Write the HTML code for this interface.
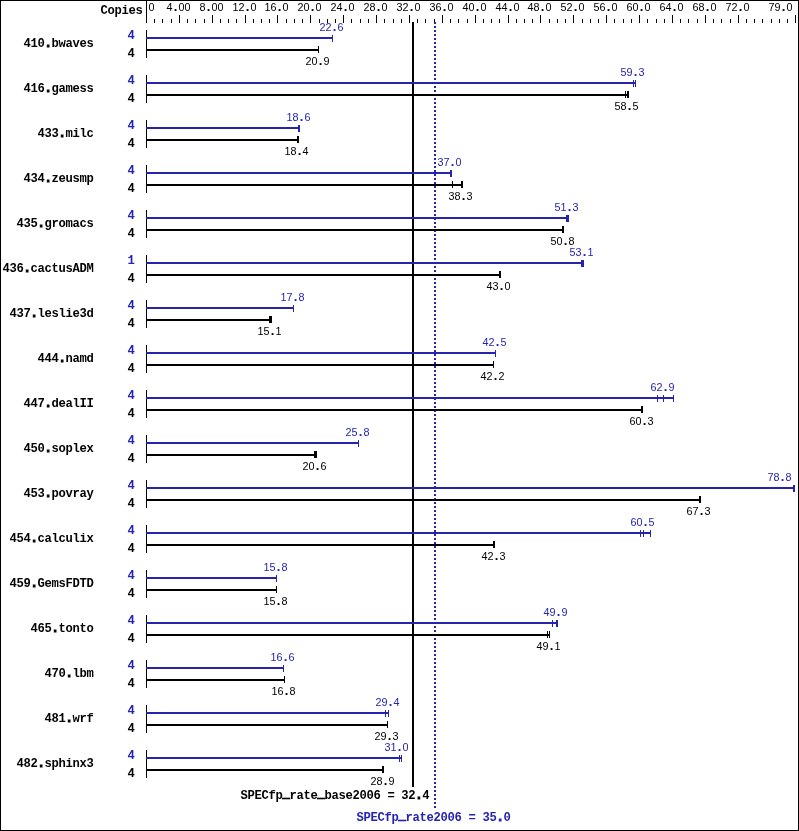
<!DOCTYPE html>
<html lang="en"><head><meta charset="utf-8"><title>SPECfp_rate2006</title>
<style>
html,body{margin:0;padding:0;background:#fff}
body{width:799px;height:831px;overflow:hidden}
#c{position:relative;width:799px;height:831px;background:#fff;overflow:hidden;will-change:transform}
#c div,#c span{position:absolute}
.k{background:#000}
.b{background:#2424b0}
.s{font:400 10.8px/13px "Liberation Sans",sans-serif;white-space:pre;color:#000}
.s i{font-style:normal;font-weight:700;font-size:13px;line-height:0;margin:0 1.194px}
.m{font:700 12.2px/13px "Liberation Mono",monospace;letter-spacing:-0.321px;white-space:pre;color:#000}
.m i{font-style:normal;-webkit-text-stroke:1px}
.m b{position:relative;top:-2px;-webkit-text-stroke:1px}
.u{color:#2424b0}
.dot{background:repeating-linear-gradient(to bottom,#2424b0 0,#2424b0 2px,transparent 2px,transparent 4px)}
</style></head>
<body><div id="c">
<!-- frame -->
<div class="k" style="left:0px;top:0px;width:799px;height:1px"></div>
<div class="k" style="left:0px;top:830px;width:799px;height:1px"></div>
<div class="k" style="left:0px;top:0px;width:1px;height:831px"></div>
<div class="k" style="left:798px;top:0px;width:1px;height:831px"></div>
<!-- axis -->
<div class="k" style="left:146px;top:0px;width:1px;height:23px"></div>
<div class="k" style="left:154px;top:19px;width:1px;height:4px"></div>
<div class="k" style="left:162px;top:19px;width:1px;height:4px"></div>
<div class="k" style="left:171px;top:19px;width:1px;height:4px"></div>
<div class="k" style="left:179px;top:15px;width:1px;height:8px"></div>
<div class="k" style="left:187px;top:19px;width:1px;height:4px"></div>
<div class="k" style="left:195px;top:19px;width:1px;height:4px"></div>
<div class="k" style="left:204px;top:19px;width:1px;height:4px"></div>
<div class="k" style="left:212px;top:15px;width:1px;height:8px"></div>
<div class="k" style="left:220px;top:19px;width:1px;height:4px"></div>
<div class="k" style="left:228px;top:19px;width:1px;height:4px"></div>
<div class="k" style="left:236px;top:19px;width:1px;height:4px"></div>
<div class="k" style="left:245px;top:15px;width:1px;height:8px"></div>
<div class="k" style="left:253px;top:19px;width:1px;height:4px"></div>
<div class="k" style="left:261px;top:19px;width:1px;height:4px"></div>
<div class="k" style="left:269px;top:19px;width:1px;height:4px"></div>
<div class="k" style="left:277px;top:15px;width:1px;height:8px"></div>
<div class="k" style="left:286px;top:19px;width:1px;height:4px"></div>
<div class="k" style="left:294px;top:19px;width:1px;height:4px"></div>
<div class="k" style="left:302px;top:19px;width:1px;height:4px"></div>
<div class="k" style="left:310px;top:15px;width:1px;height:8px"></div>
<div class="k" style="left:319px;top:19px;width:1px;height:4px"></div>
<div class="k" style="left:327px;top:19px;width:1px;height:4px"></div>
<div class="k" style="left:335px;top:19px;width:1px;height:4px"></div>
<div class="k" style="left:343px;top:15px;width:1px;height:8px"></div>
<div class="k" style="left:351px;top:19px;width:1px;height:4px"></div>
<div class="k" style="left:360px;top:19px;width:1px;height:4px"></div>
<div class="k" style="left:368px;top:19px;width:1px;height:4px"></div>
<div class="k" style="left:376px;top:15px;width:1px;height:8px"></div>
<div class="k" style="left:384px;top:19px;width:1px;height:4px"></div>
<div class="k" style="left:393px;top:19px;width:1px;height:4px"></div>
<div class="k" style="left:401px;top:19px;width:1px;height:4px"></div>
<div class="k" style="left:409px;top:15px;width:1px;height:8px"></div>
<div class="k" style="left:417px;top:19px;width:1px;height:4px"></div>
<div class="k" style="left:425px;top:19px;width:1px;height:4px"></div>
<div class="k" style="left:434px;top:19px;width:1px;height:4px"></div>
<div class="k" style="left:442px;top:15px;width:1px;height:8px"></div>
<div class="k" style="left:450px;top:19px;width:1px;height:4px"></div>
<div class="k" style="left:458px;top:19px;width:1px;height:4px"></div>
<div class="k" style="left:467px;top:19px;width:1px;height:4px"></div>
<div class="k" style="left:475px;top:15px;width:1px;height:8px"></div>
<div class="k" style="left:483px;top:19px;width:1px;height:4px"></div>
<div class="k" style="left:491px;top:19px;width:1px;height:4px"></div>
<div class="k" style="left:499px;top:19px;width:1px;height:4px"></div>
<div class="k" style="left:508px;top:15px;width:1px;height:8px"></div>
<div class="k" style="left:516px;top:19px;width:1px;height:4px"></div>
<div class="k" style="left:524px;top:19px;width:1px;height:4px"></div>
<div class="k" style="left:532px;top:19px;width:1px;height:4px"></div>
<div class="k" style="left:540px;top:15px;width:1px;height:8px"></div>
<div class="k" style="left:549px;top:19px;width:1px;height:4px"></div>
<div class="k" style="left:557px;top:19px;width:1px;height:4px"></div>
<div class="k" style="left:565px;top:19px;width:1px;height:4px"></div>
<div class="k" style="left:573px;top:15px;width:1px;height:8px"></div>
<div class="k" style="left:582px;top:19px;width:1px;height:4px"></div>
<div class="k" style="left:590px;top:19px;width:1px;height:4px"></div>
<div class="k" style="left:598px;top:19px;width:1px;height:4px"></div>
<div class="k" style="left:606px;top:15px;width:1px;height:8px"></div>
<div class="k" style="left:614px;top:19px;width:1px;height:4px"></div>
<div class="k" style="left:623px;top:19px;width:1px;height:4px"></div>
<div class="k" style="left:631px;top:19px;width:1px;height:4px"></div>
<div class="k" style="left:639px;top:15px;width:1px;height:8px"></div>
<div class="k" style="left:647px;top:19px;width:1px;height:4px"></div>
<div class="k" style="left:656px;top:19px;width:1px;height:4px"></div>
<div class="k" style="left:664px;top:19px;width:1px;height:4px"></div>
<div class="k" style="left:672px;top:15px;width:1px;height:8px"></div>
<div class="k" style="left:680px;top:19px;width:1px;height:4px"></div>
<div class="k" style="left:688px;top:19px;width:1px;height:4px"></div>
<div class="k" style="left:697px;top:19px;width:1px;height:4px"></div>
<div class="k" style="left:705px;top:15px;width:1px;height:8px"></div>
<div class="k" style="left:713px;top:19px;width:1px;height:4px"></div>
<div class="k" style="left:721px;top:19px;width:1px;height:4px"></div>
<div class="k" style="left:730px;top:19px;width:1px;height:4px"></div>
<div class="k" style="left:738px;top:15px;width:1px;height:8px"></div>
<div class="k" style="left:746px;top:19px;width:1px;height:4px"></div>
<div class="k" style="left:754px;top:19px;width:1px;height:4px"></div>
<div class="k" style="left:762px;top:19px;width:1px;height:4px"></div>
<div class="k" style="left:771px;top:19px;width:1px;height:4px"></div>
<div class="k" style="left:779px;top:19px;width:1px;height:4px"></div>
<div class="k" style="left:787px;top:19px;width:1px;height:4px"></div>
<div class="k" style="left:795px;top:15px;width:1px;height:8px"></div>
<span class="s" style="left:148.5px;top:1px">0</span>
<span class="s" style="left:166.5px;top:1px">4<i>.</i>00</span>
<span class="s" style="left:199.5px;top:1px">8<i>.</i>00</span>
<span class="s" style="left:232.5px;top:1px">12<i>.</i>0</span>
<span class="s" style="left:264.5px;top:1px">16<i>.</i>0</span>
<span class="s" style="left:297.5px;top:1px">20<i>.</i>0</span>
<span class="s" style="left:330.5px;top:1px">24<i>.</i>0</span>
<span class="s" style="left:363.5px;top:1px">28<i>.</i>0</span>
<span class="s" style="left:396.5px;top:1px">32<i>.</i>0</span>
<span class="s" style="left:429.5px;top:1px">36<i>.</i>0</span>
<span class="s" style="left:462.5px;top:1px">40<i>.</i>0</span>
<span class="s" style="left:495.5px;top:1px">44<i>.</i>0</span>
<span class="s" style="left:527.5px;top:1px">48<i>.</i>0</span>
<span class="s" style="left:560.5px;top:1px">52<i>.</i>0</span>
<span class="s" style="left:593.5px;top:1px">56<i>.</i>0</span>
<span class="s" style="left:626.5px;top:1px">60<i>.</i>0</span>
<span class="s" style="left:659.5px;top:1px">64<i>.</i>0</span>
<span class="s" style="left:692.5px;top:1px">68<i>.</i>0</span>
<span class="s" style="left:725.5px;top:1px">72<i>.</i>0</span>
<span class="s" style="left:768.5px;top:1px">79<i>.</i>0</span>
<span class="m" style="left:100.5px;top:5px">Copies</span>
<!-- mean lines -->
<div class="k" style="left:412px;top:22px;width:2px;height:765px"></div>
<div class="dot" style="left:434px;top:22px;width:2px;height:786px"></div>
<!-- 410.bwaves -->
<span class="m" style="left:23.5px;top:38px">410<i>.</i>bwaves</span>
<span class="m u" style="left:127.5px;top:30px">4</span>
<span class="m" style="left:127.5px;top:48px">4</span>
<div class="k" style="left:146px;top:30px;width:1px;height:28px"></div>
<div class="k" style="left:146px;top:49px;width:173px;height:2px"></div>
<div class="k" style="left:318px;top:46px;width:1px;height:7px"></div>
<div class="b" style="left:146px;top:37px;width:187px;height:2px"></div>
<div class="b" style="left:332px;top:35px;width:1px;height:7px"></div>
<span class="s u" style="left:319.5px;top:21px">22<i>.</i>6</span>
<span class="s" style="left:305.5px;top:55px">20<i>.</i>9</span>
<!-- 416.gamess -->
<span class="m" style="left:23.5px;top:83px">416<i>.</i>gamess</span>
<span class="m u" style="left:127.5px;top:75px">4</span>
<span class="m" style="left:127.5px;top:93px">4</span>
<div class="k" style="left:146px;top:75px;width:1px;height:28px"></div>
<div class="k" style="left:146px;top:94px;width:483px;height:2px"></div>
<div class="k" style="left:625px;top:91px;width:1px;height:7px"></div>
<div class="k" style="left:627px;top:91px;width:1px;height:7px"></div>
<div class="k" style="left:628px;top:91px;width:1px;height:7px"></div>
<div class="b" style="left:146px;top:82px;width:490px;height:2px"></div>
<div class="b" style="left:633px;top:80px;width:1px;height:7px"></div>
<div class="b" style="left:635px;top:80px;width:1px;height:7px"></div>
<span class="s u" style="left:620.5px;top:66px">59<i>.</i>3</span>
<span class="s" style="left:614.5px;top:100px">58<i>.</i>5</span>
<!-- 433.milc -->
<span class="m" style="left:37.5px;top:128px">433<i>.</i>milc</span>
<span class="m u" style="left:127.5px;top:120px">4</span>
<span class="m" style="left:127.5px;top:138px">4</span>
<div class="k" style="left:146px;top:120px;width:1px;height:28px"></div>
<div class="k" style="left:146px;top:139px;width:153px;height:2px"></div>
<div class="k" style="left:297px;top:136px;width:1px;height:7px"></div>
<div class="k" style="left:298px;top:136px;width:1px;height:7px"></div>
<div class="b" style="left:146px;top:127px;width:154px;height:2px"></div>
<div class="b" style="left:298px;top:125px;width:1px;height:7px"></div>
<div class="b" style="left:299px;top:125px;width:1px;height:7px"></div>
<span class="s u" style="left:286.5px;top:111px">18<i>.</i>6</span>
<span class="s" style="left:284.5px;top:145px">18<i>.</i>4</span>
<!-- 434.zeusmp -->
<span class="m" style="left:23.5px;top:173px">434<i>.</i>zeusmp</span>
<span class="m u" style="left:127.5px;top:165px">4</span>
<span class="m" style="left:127.5px;top:183px">4</span>
<div class="k" style="left:146px;top:165px;width:1px;height:28px"></div>
<div class="k" style="left:146px;top:184px;width:317px;height:2px"></div>
<div class="k" style="left:452px;top:181px;width:1px;height:7px"></div>
<div class="k" style="left:461px;top:181px;width:1px;height:7px"></div>
<div class="k" style="left:462px;top:181px;width:1px;height:7px"></div>
<div class="b" style="left:146px;top:172px;width:306px;height:2px"></div>
<div class="b" style="left:450px;top:170px;width:1px;height:7px"></div>
<div class="b" style="left:451px;top:170px;width:1px;height:7px"></div>
<span class="s u" style="left:437.5px;top:156px">37<i>.</i>0</span>
<span class="s" style="left:448.5px;top:190px">38<i>.</i>3</span>
<!-- 435.gromacs -->
<span class="m" style="left:16.5px;top:218px">435<i>.</i>gromacs</span>
<span class="m u" style="left:127.5px;top:210px">4</span>
<span class="m" style="left:127.5px;top:228px">4</span>
<div class="k" style="left:146px;top:210px;width:1px;height:28px"></div>
<div class="k" style="left:146px;top:229px;width:418px;height:2px"></div>
<div class="k" style="left:562px;top:226px;width:1px;height:7px"></div>
<div class="k" style="left:563px;top:226px;width:1px;height:7px"></div>
<div class="b" style="left:146px;top:217px;width:423px;height:2px"></div>
<div class="b" style="left:566px;top:215px;width:1px;height:7px"></div>
<div class="b" style="left:567px;top:215px;width:1px;height:7px"></div>
<div class="b" style="left:568px;top:215px;width:1px;height:7px"></div>
<span class="s u" style="left:554.5px;top:201px">51<i>.</i>3</span>
<span class="s" style="left:550.5px;top:235px">50<i>.</i>8</span>
<!-- 436.cactusADM -->
<span class="m" style="left:2.5px;top:263px">436<i>.</i>cactusADM</span>
<span class="m u" style="left:127.5px;top:255px">1</span>
<span class="m" style="left:127.5px;top:273px">4</span>
<div class="k" style="left:146px;top:255px;width:1px;height:28px"></div>
<div class="k" style="left:146px;top:274px;width:355px;height:2px"></div>
<div class="k" style="left:499px;top:271px;width:1px;height:7px"></div>
<div class="k" style="left:500px;top:271px;width:1px;height:7px"></div>
<div class="b" style="left:146px;top:262px;width:438px;height:2px"></div>
<div class="b" style="left:581px;top:260px;width:1px;height:7px"></div>
<div class="b" style="left:582px;top:260px;width:1px;height:7px"></div>
<div class="b" style="left:583px;top:260px;width:1px;height:7px"></div>
<span class="s u" style="left:569.5px;top:246px">53<i>.</i>1</span>
<span class="s" style="left:486.5px;top:280px">43<i>.</i>0</span>
<!-- 437.leslie3d -->
<span class="m" style="left:9.5px;top:308px">437<i>.</i>leslie3d</span>
<span class="m u" style="left:127.5px;top:300px">4</span>
<span class="m" style="left:127.5px;top:318px">4</span>
<div class="k" style="left:146px;top:300px;width:1px;height:28px"></div>
<div class="k" style="left:146px;top:319px;width:126px;height:2px"></div>
<div class="k" style="left:269px;top:316px;width:1px;height:7px"></div>
<div class="k" style="left:270px;top:316px;width:1px;height:7px"></div>
<div class="k" style="left:271px;top:316px;width:1px;height:7px"></div>
<div class="b" style="left:146px;top:307px;width:148px;height:2px"></div>
<div class="b" style="left:293px;top:305px;width:1px;height:7px"></div>
<span class="s u" style="left:280.5px;top:291px">17<i>.</i>8</span>
<span class="s" style="left:257.5px;top:325px">15<i>.</i>1</span>
<!-- 444.namd -->
<span class="m" style="left:37.5px;top:353px">444<i>.</i>namd</span>
<span class="m u" style="left:127.5px;top:345px">4</span>
<span class="m" style="left:127.5px;top:363px">4</span>
<div class="k" style="left:146px;top:345px;width:1px;height:28px"></div>
<div class="k" style="left:146px;top:364px;width:348px;height:2px"></div>
<div class="k" style="left:493px;top:361px;width:1px;height:7px"></div>
<div class="b" style="left:146px;top:352px;width:350px;height:2px"></div>
<div class="b" style="left:495px;top:350px;width:1px;height:7px"></div>
<span class="s u" style="left:482.5px;top:336px">42<i>.</i>5</span>
<span class="s" style="left:480.5px;top:370px">42<i>.</i>2</span>
<!-- 447.dealII -->
<span class="m" style="left:23.5px;top:398px">447<i>.</i>dealII</span>
<span class="m u" style="left:127.5px;top:390px">4</span>
<span class="m" style="left:127.5px;top:408px">4</span>
<div class="k" style="left:146px;top:390px;width:1px;height:28px"></div>
<div class="k" style="left:146px;top:409px;width:497px;height:2px"></div>
<div class="k" style="left:641px;top:406px;width:1px;height:7px"></div>
<div class="k" style="left:642px;top:406px;width:1px;height:7px"></div>
<div class="b" style="left:146px;top:397px;width:528px;height:2px"></div>
<div class="b" style="left:657px;top:395px;width:1px;height:7px"></div>
<div class="b" style="left:663px;top:395px;width:1px;height:7px"></div>
<div class="b" style="left:673px;top:395px;width:1px;height:7px"></div>
<span class="s u" style="left:650.5px;top:381px">62<i>.</i>9</span>
<span class="s" style="left:629.5px;top:415px">60<i>.</i>3</span>
<!-- 450.soplex -->
<span class="m" style="left:23.5px;top:443px">450<i>.</i>soplex</span>
<span class="m u" style="left:127.5px;top:435px">4</span>
<span class="m" style="left:127.5px;top:453px">4</span>
<div class="k" style="left:146px;top:435px;width:1px;height:28px"></div>
<div class="k" style="left:146px;top:454px;width:171px;height:2px"></div>
<div class="k" style="left:314px;top:451px;width:1px;height:7px"></div>
<div class="k" style="left:315px;top:451px;width:1px;height:7px"></div>
<div class="k" style="left:316px;top:451px;width:1px;height:7px"></div>
<div class="b" style="left:146px;top:442px;width:213px;height:2px"></div>
<div class="b" style="left:358px;top:440px;width:1px;height:7px"></div>
<span class="s u" style="left:345.5px;top:426px">25<i>.</i>8</span>
<span class="s" style="left:302.5px;top:460px">20<i>.</i>6</span>
<!-- 453.povray -->
<span class="m" style="left:23.5px;top:488px">453<i>.</i>povray</span>
<span class="m u" style="left:127.5px;top:480px">4</span>
<span class="m" style="left:127.5px;top:498px">4</span>
<div class="k" style="left:146px;top:480px;width:1px;height:28px"></div>
<div class="k" style="left:146px;top:499px;width:555px;height:2px"></div>
<div class="k" style="left:699px;top:496px;width:1px;height:7px"></div>
<div class="k" style="left:700px;top:496px;width:1px;height:7px"></div>
<div class="b" style="left:146px;top:487px;width:649px;height:2px"></div>
<div class="b" style="left:793px;top:485px;width:1px;height:7px"></div>
<div class="b" style="left:794px;top:485px;width:1px;height:7px"></div>
<span class="s u" style="left:767.5px;top:471px">78<i>.</i>8</span>
<span class="s" style="left:686.5px;top:505px">67<i>.</i>3</span>
<!-- 454.calculix -->
<span class="m" style="left:9.5px;top:533px">454<i>.</i>calculix</span>
<span class="m u" style="left:127.5px;top:525px">4</span>
<span class="m" style="left:127.5px;top:543px">4</span>
<div class="k" style="left:146px;top:525px;width:1px;height:28px"></div>
<div class="k" style="left:146px;top:544px;width:349px;height:2px"></div>
<div class="k" style="left:493px;top:541px;width:1px;height:7px"></div>
<div class="k" style="left:494px;top:541px;width:1px;height:7px"></div>
<div class="b" style="left:146px;top:532px;width:505px;height:2px"></div>
<div class="b" style="left:640px;top:530px;width:1px;height:7px"></div>
<div class="b" style="left:643px;top:530px;width:1px;height:7px"></div>
<div class="b" style="left:650px;top:530px;width:1px;height:7px"></div>
<span class="s u" style="left:630.5px;top:516px">60<i>.</i>5</span>
<span class="s" style="left:481.5px;top:550px">42<i>.</i>3</span>
<!-- 459.GemsFDTD -->
<span class="m" style="left:9.5px;top:578px">459<i>.</i>GemsFDTD</span>
<span class="m u" style="left:127.5px;top:570px">4</span>
<span class="m" style="left:127.5px;top:588px">4</span>
<div class="k" style="left:146px;top:570px;width:1px;height:28px"></div>
<div class="k" style="left:146px;top:589px;width:131px;height:2px"></div>
<div class="k" style="left:276px;top:586px;width:1px;height:7px"></div>
<div class="b" style="left:146px;top:577px;width:131px;height:2px"></div>
<div class="b" style="left:276px;top:575px;width:1px;height:7px"></div>
<span class="s u" style="left:263.5px;top:561px">15<i>.</i>8</span>
<span class="s" style="left:263.5px;top:595px">15<i>.</i>8</span>
<!-- 465.tonto -->
<span class="m" style="left:30.5px;top:623px">465<i>.</i>tonto</span>
<span class="m u" style="left:127.5px;top:615px">4</span>
<span class="m" style="left:127.5px;top:633px">4</span>
<div class="k" style="left:146px;top:615px;width:1px;height:28px"></div>
<div class="k" style="left:146px;top:634px;width:404px;height:2px"></div>
<div class="k" style="left:547px;top:631px;width:1px;height:7px"></div>
<div class="k" style="left:549px;top:631px;width:1px;height:7px"></div>
<div class="b" style="left:146px;top:622px;width:412px;height:2px"></div>
<div class="b" style="left:552px;top:620px;width:1px;height:7px"></div>
<div class="b" style="left:556px;top:620px;width:1px;height:7px"></div>
<div class="b" style="left:557px;top:620px;width:1px;height:7px"></div>
<span class="s u" style="left:543.5px;top:606px">49<i>.</i>9</span>
<span class="s" style="left:536.5px;top:640px">49<i>.</i>1</span>
<!-- 470.lbm -->
<span class="m" style="left:44.5px;top:668px">470<i>.</i>lbm</span>
<span class="m u" style="left:127.5px;top:660px">4</span>
<span class="m" style="left:127.5px;top:678px">4</span>
<div class="k" style="left:146px;top:660px;width:1px;height:28px"></div>
<div class="k" style="left:146px;top:679px;width:139px;height:2px"></div>
<div class="k" style="left:284px;top:676px;width:1px;height:7px"></div>
<div class="b" style="left:146px;top:667px;width:138px;height:2px"></div>
<div class="b" style="left:283px;top:665px;width:1px;height:7px"></div>
<span class="s u" style="left:270.5px;top:651px">16<i>.</i>6</span>
<span class="s" style="left:271.5px;top:685px">16<i>.</i>8</span>
<!-- 481.wrf -->
<span class="m" style="left:44.5px;top:713px">481<i>.</i>wrf</span>
<span class="m u" style="left:127.5px;top:705px">4</span>
<span class="m" style="left:127.5px;top:723px">4</span>
<div class="k" style="left:146px;top:705px;width:1px;height:28px"></div>
<div class="k" style="left:146px;top:724px;width:242px;height:2px"></div>
<div class="k" style="left:387px;top:721px;width:1px;height:7px"></div>
<div class="b" style="left:146px;top:712px;width:243px;height:2px"></div>
<div class="b" style="left:385px;top:710px;width:1px;height:7px"></div>
<div class="b" style="left:388px;top:710px;width:1px;height:7px"></div>
<span class="s u" style="left:375.5px;top:696px">29<i>.</i>4</span>
<span class="s" style="left:374.5px;top:730px">29<i>.</i>3</span>
<!-- 482.sphinx3 -->
<span class="m" style="left:16.5px;top:758px">482<i>.</i>sphinx3</span>
<span class="m u" style="left:127.5px;top:750px">4</span>
<span class="m" style="left:127.5px;top:768px">4</span>
<div class="k" style="left:146px;top:750px;width:1px;height:28px"></div>
<div class="k" style="left:146px;top:769px;width:238px;height:2px"></div>
<div class="k" style="left:382px;top:766px;width:1px;height:7px"></div>
<div class="k" style="left:383px;top:766px;width:1px;height:7px"></div>
<div class="b" style="left:146px;top:757px;width:256px;height:2px"></div>
<div class="b" style="left:399px;top:755px;width:1px;height:7px"></div>
<div class="b" style="left:401px;top:755px;width:1px;height:7px"></div>
<span class="s u" style="left:384.5px;top:741px">31<i>.</i>0</span>
<span class="s" style="left:370.5px;top:775px">28<i>.</i>9</span>
<!-- summary -->
<span class="m" style="left:240.5px;top:790px">SPECfp<b>_</b>rate<b>_</b>base2006 = 32<i>.</i>4</span>
<span class="m u" style="left:356.5px;top:812px">SPECfp<b>_</b>rate2006 = 35<i>.</i>0</span>
</div></body></html>
